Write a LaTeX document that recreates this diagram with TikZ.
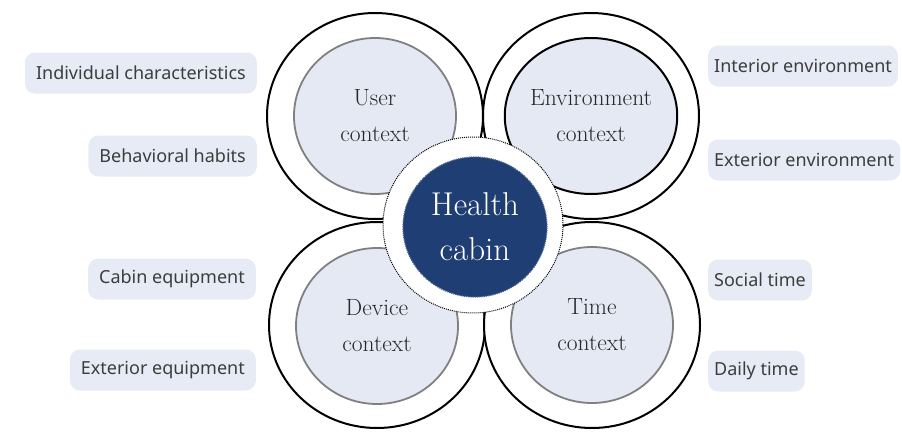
\documentclass[tikz,border=0pt]{standalone}
\usepackage{fontspec}
\usetikzlibrary{shapes.geometric}
\newfontfamily\boxfont{Noto Sans}
\definecolor{discfill}{RGB}{228,233,244}
\definecolor{boxfill}{RGB}{230,235,245}
\definecolor{ringgray}{RGB}{128,128,128}
\definecolor{labelink}{RGB}{40,40,40}
\definecolor{cabinblue}{RGB}{31,62,115}
\newcommand{\ctxtext}{\fontsize{23.5}{36}\selectfont}
\newcommand{\hubtext}{\fontsize{33}{45}\selectfont}
\begin{document}
\begin{tikzpicture}[x=1pt,y=-1pt,
  outerring/.style={ellipse, draw=black, line width=2pt, fill=white,
    minimum width=216pt, minimum height=206pt, inner sep=0pt},
  innerdisc/.style={ellipse, draw=ringgray, line width=1.8pt, fill=discfill,
    minimum width=162pt, minimum height=156pt, inner sep=0pt,
    align=center, text=labelink, font=\ctxtext},
  tagbox/.style={rounded corners=10pt, fill=boxfill, text=labelink!90!white,
    font=\boxfont\fontsize{18}{22}\selectfont, minimum height=41pt,
    inner ysep=0pt},
  lefttag/.style={tagbox, anchor=east, inner xsep=11pt},
  righttag/.style={tagbox, anchor=west, inner xsep=6pt}]
\useasboundingbox (0,0) rectangle (902,431);
\clip (0,0) rectangle (902,431);

% outer rings of the four contexts
\node[outerring] (ringU) at (375,116) {};
\node[outerring] (ringE) at (591,116) {};
\node[outerring] (ringD) at (377,325) {};
\node[outerring] (ringT) at (592,325) {};

% inner discs with their labels
\node[innerdisc] (user) at (375,116) {User\\context};
\node[innerdisc, draw=black, line width=2pt] (env) at (591,116) {Environment\\context};
\node[innerdisc] (dev) at (377,326) {Device\\context};
\node[innerdisc] (time) at (592,325) {Time\\context};

% central hub
\node[ellipse, fill=white, draw=black, densely dotted, line width=1pt,
  minimum width=180pt, minimum height=176pt, inner sep=0pt] (halo) at (473,225) {};
\node[ellipse, fill=cabinblue, draw=cabinblue!80!white, densely dotted, line width=1.2pt,
  minimum width=144pt, minimum height=140pt, inner sep=0pt,
  align=center, text=white, font=\hubtext] (hub) at (475,227) {Health\\cabin};

% factor tags
\node[lefttag] (indiv) at (257,73) {Individual characteristics};
\node[lefttag] (habit) at (257,156) {Behavioral habits};
\node[lefttag] (cabeq) at (256,279) {Cabin equipment};
\node[lefttag] (exteq) at (256,370) {Exterior equipment};
\node[righttag] (intenv) at (708,66) {Interior environment};
\node[righttag] (extenv) at (708,160) {Exterior environment};
\node[righttag] (social) at (708,280) {Social time};
\node[righttag] (daily) at (708,371) {Daily time};
\end{tikzpicture}
\end{document}
